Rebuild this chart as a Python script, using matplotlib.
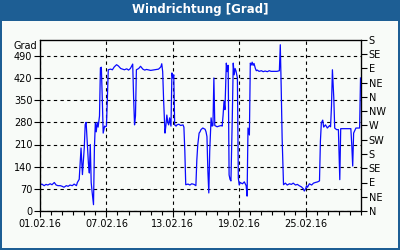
import matplotlib.pyplot as plt
import matplotlib.dates as mdates
from matplotlib.patches import Rectangle
import numpy as np
from datetime import datetime, timedelta

# hours since 01.02.16 00:00 and wind direction in degrees
hours = [0, 4, 9, 13, 17, 22, 26, 31, 35, 39, 44, 48, 52, 57, 61, 65, 70, 74, 79, 81,
         83, 85, 87, 89, 92, 94, 96, 98, 100, 103, 105, 107, 109, 111, 113, 116, 118, 120, 122, 124,
         126, 129, 131, 133, 135, 137, 140, 142, 144, 146, 148, 153, 157, 161, 166, 170, 175, 179, 183, 188,
         192, 196, 201, 203, 205, 207, 209, 214, 218, 223, 227, 231, 240, 249, 257, 262, 264, 266, 268, 271,
         273, 275, 277, 279, 281, 284, 286, 288, 290, 292, 295, 297, 301, 305, 310, 312, 314, 316, 321, 325,
         329, 334, 338, 340, 342, 345, 347, 349, 353, 358, 360, 362, 364, 366, 368, 371, 373, 375, 377, 379,
         384, 388, 393, 395, 397, 399, 401, 404, 406, 408, 410, 412, 414, 417, 419, 421, 423, 425, 428, 430,
         432, 434, 439, 443, 447, 449, 451, 454, 456, 458, 460, 462, 464, 467, 469, 471, 475, 480, 484, 488,
         493, 497, 501, 506, 510, 514, 519, 521, 523, 525, 528, 532, 536, 541, 545, 549, 554, 558, 562, 567,
         571, 573, 576, 578, 580, 584, 589, 593, 597, 602, 606, 608, 610, 613, 615, 619, 623, 628, 630, 632,
         634, 637, 639, 643, 647, 650, 652, 656, 665, 674, 676, 678, 680, 685, 689, 693, 695]
degrees = [82, 85, 80, 84, 82, 86, 83, 90, 82, 80, 80, 78, 75, 80, 78, 82, 80, 85, 80, 90,
           95, 100, 150, 199, 115, 160, 200, 273, 280, 200, 150, 120, 210, 90, 60, 20, 200, 278, 250, 280,
           265, 300, 452, 454, 357, 246, 268, 266, 268, 351, 446, 448, 446, 455, 462, 458, 450, 448, 446, 449,
           445, 450, 464, 357, 272, 300, 446, 450, 457, 448, 445, 447, 444, 446, 448, 455, 465, 440, 351, 246,
           270, 303, 280, 272, 294, 268, 436, 420, 430, 272, 268, 272, 274, 270, 272, 265, 190, 83, 85, 82,
           86, 84, 80, 160, 208, 246, 250, 257, 262, 258, 250, 235, 126, 57, 190, 294, 268, 270, 420, 270,
           266, 268, 270, 268, 303, 347, 320, 467, 440, 460, 114, 100, 95, 300, 467, 430, 450, 442, 420, 104,
           82, 90, 86, 92, 80, 47, 262, 240, 467, 461, 470, 460, 466, 450, 443, 445, 441, 443, 440, 442,
           440, 443, 441, 441, 441, 441, 443, 525, 388, 230, 83, 88, 82, 86, 84, 88, 82, 84, 80, 76,
           70, 63, 70, 80, 75, 86, 82, 88, 90, 92, 95, 221, 278, 287, 265, 272, 262, 270, 266, 331,
           446, 357, 262, 257, 257, 99, 260, 260, 260, 260, 208, 142, 246, 262, 262, 262, 420]

left_ticks = [0, 70, 140, 210, 280, 350, 420, 490]
right_ticks = list(range(0, 541, 45))
right_labels = ['N', 'NE', 'E', 'SE', 'S', 'SW', 'W', 'NW', 'N', 'NE', 'E', 'SE', 'S']
date_ticks = [datetime(2016, 2, d) for d in (1, 7, 13, 19, 25)]

start = datetime(2016, 2, 1)
end = datetime(2016, 3, 1)
times = [start + timedelta(hours=h) for h in hours]

frame_blue = '#1d5e94'
bg = '#f8fbf8'

fig = plt.figure(figsize=(4, 2.5), dpi=100, facecolor=frame_blue)
fig.patches.append(Rectangle((2 / 400, 2 / 250), 396 / 400, 227 / 250,
                             transform=fig.transFigure, facecolor=bg, edgecolor='none', zorder=-10))
fig.text(0.5, 1 - 10 / 250, 'Windrichtung [Grad]', color='white', fontsize=8.5,
         fontweight='bold', ha='center', va='center')

ax = fig.add_axes([40 / 400, 39 / 250, 321 / 400, 171 / 250])
ax.set_facecolor(bg)
ax.plot(times, degrees, color='#0a0aff', linewidth=0.9)

ax.set_xlim(start, end)
ax.set_ylim(0, 540)
ax.set_yticks(left_ticks)
ax.tick_params(labelsize=7, length=4, width=0.8, pad=1.5)
ax.set_xticks(date_ticks)
ax.xaxis.set_major_formatter(mdates.DateFormatter('%d.%m.%y'))
ax.xaxis.set_minor_locator(mdates.DayLocator())
ax.tick_params(axis='x', which='minor', length=3, width=0.8)
ax.grid(True, color='black', linestyle=(0, (3, 3)), linewidth=0.8)
for s in ax.spines.values():
    s.set_linewidth(0.9)

fig.text(37 / 400, 1 - 46 / 250, 'Grad', fontsize=7, ha='right', va='center')

ax2 = ax.twinx()
ax2.set_ylim(0, 540)
ax2.set_yticks(right_ticks)
ax2.set_yticklabels(right_labels)
ax2.tick_params(labelsize=7, length=4, width=0.8, pad=1.5)

fig.savefig('out.png', dpi=100, facecolor=frame_blue)
